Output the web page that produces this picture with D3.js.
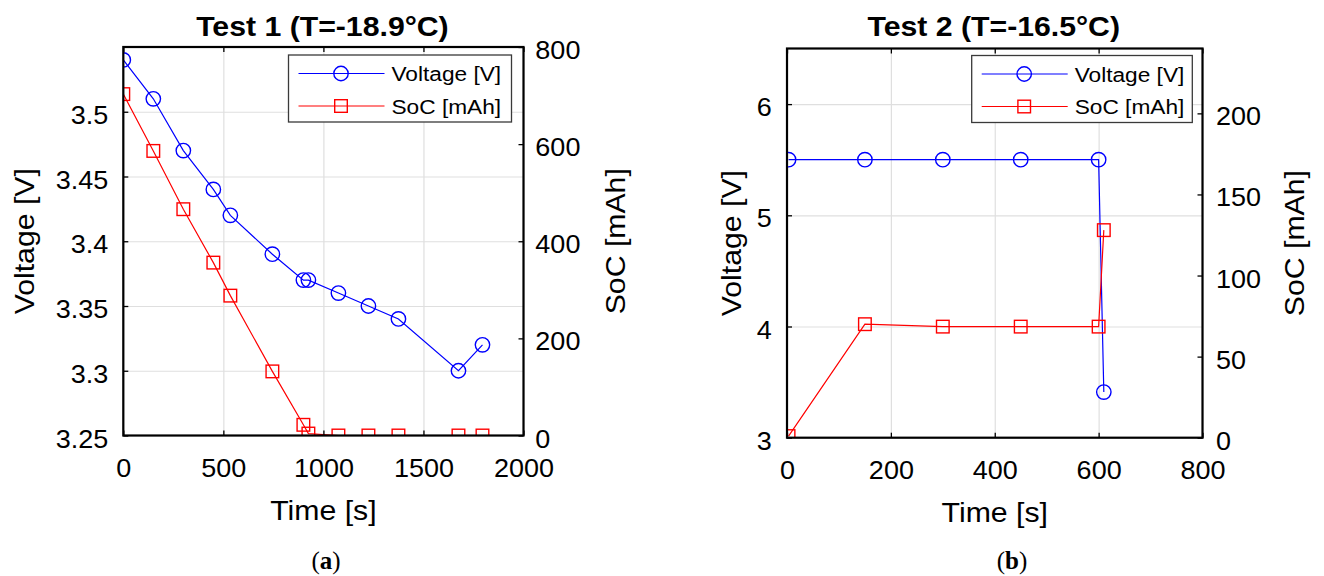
<!DOCTYPE html>
<html>
<head>
<meta charset="utf-8">
<script src="https://cdn.jsdelivr.net/npm/d3@7"></script>
<style>
body{margin:0;background:#fff;}
svg text{font-family:"Liberation Sans",Arial,sans-serif;fill:#000;}
</style>
</head>
<body>
<script>
// Test 1 (T=-18.9°C)
var timeA = [0, 150, 300, 450, 535, 745, 900, 925, 1075, 1225, 1375, 1675, 1795];
var voltA = [3.54, 3.51, 3.47, 3.44, 3.42, 3.39, 3.37, 3.37, 3.36, 3.35, 3.34, 3.30, 3.32];
var socA  = [703, 586, 466, 356, 288, 132, 22, 4, 0, 0, 0, 0, 0];

// Test 2 (T=-16.5°C)
var timeB = [3, 150, 300, 450, 600, 610];
var voltB = [5.5, 5.5, 5.5, 5.5, 5.5, 3.41];
var socB  = [1, 70, 68.5, 68.5, 68.5, 128];

// tick labels
var xTicksA = [0, 500, 1000, 1500, 2000];
var vTicksA = [3.25, 3.3, 3.35, 3.4, 3.45, 3.5];
var sTicksA = [0, 200, 400, 600, 800];
var xTicksB = [0, 200, 400, 600, 800];
var vTicksB = [3, 4, 5, 6];
var sTicksB = [0, 50, 100, 150, 200];

var seriesNames = ["Voltage [V]", "SoC [mAh]"];

var W = 1324, H = 576, SX = 1.08;
var BLUE = "#0000ff", RED = "#ff0000";

var svg = d3.select("body").append("svg")
  .attr("width", W).attr("height", H);

function stretchText(sel, size) {
  sel.style("font-family", '"Liberation Sans",Arial,sans-serif')
     .style("font-size", size + "px")
     .attr("fill", "#000")
     .attr("transform", "scale(" + SX + ",1)");
}

function label(x, y, str, size, rot, bold) {
  return svg.append("text")
    .attr("transform", "translate(" + x + "," + y + ") rotate(" + (rot || 0) + ") scale(" + SX + ",1)")
    .attr("text-anchor", "middle")
    .style("font-size", size + "px")
    .style("font-weight", bold ? "bold" : "normal")
    .text(str);
}

function drawPanel(p) {
  var x = d3.scaleLinear().domain(p.xDom).range([p.left, p.right]);
  var yL = d3.scaleLinear().domain(p.vDom).range([p.bottom, p.top]);
  var yR = d3.scaleLinear().domain(p.sDom).range([p.bottom, p.top]);
  var w = p.right - p.left, h = p.bottom - p.top;

  var g = svg.append("g");

  // grid lines
  g.append("g").attr("transform", "translate(0," + p.bottom + ")")
    .call(d3.axisBottom(x).tickValues(p.xTicks).tickSize(-h).tickFormat(""))
    .call(function(s) { s.select(".domain").remove(); })
    .selectAll("line").attr("stroke", "#dfdfdf").attr("stroke-width", 1.2);
  g.append("g").attr("transform", "translate(" + p.left + ",0)")
    .call(d3.axisLeft(yL).tickValues(p.vTicks).tickSize(-w).tickFormat(""))
    .call(function(s) { s.select(".domain").remove(); })
    .selectAll("line").attr("stroke", "#dfdfdf").attr("stroke-width", 1.2);

  // data
  g.append("clipPath").attr("id", p.id)
    .append("rect").attr("x", p.left).attr("y", p.top).attr("width", w).attr("height", h);
  var plot = g.append("g").attr("clip-path", "url(#" + p.id + ")");

  var data = p.time.map(function(t, i) { return { t: t, v: p.volt[i], s: p.soc[i] }; });

  plot.append("path").datum(data)
    .attr("d", d3.line().x(function(d) { return x(d.t); }).y(function(d) { return yL(d.v); }))
    .attr("fill", "none").attr("stroke", BLUE).attr("stroke-width", 1.2);
  plot.selectAll(".vm").data(data).enter().append("circle")
    .attr("cx", function(d) { return x(d.t); })
    .attr("cy", function(d) { return yL(d.v); })
    .attr("r", 7.2)
    .attr("fill", "none").attr("stroke", BLUE).attr("stroke-width", 1.4);

  plot.append("path").datum(data)
    .attr("d", d3.line().x(function(d) { return x(d.t); }).y(function(d) { return yR(d.s); }))
    .attr("fill", "none").attr("stroke", RED).attr("stroke-width", 1.2);
  plot.selectAll(".sm").data(data).enter().append("rect")
    .attr("x", function(d) { return x(d.t) - 6.3; })
    .attr("y", function(d) { return yR(d.s) - 6.3; })
    .attr("width", 12.6).attr("height", 12.6)
    .attr("fill", "none").attr("stroke", RED).attr("stroke-width", 1.4);

  // inward ticks on all four sides
  [
    [d3.axisBottom(x).tickValues(p.xTicks), "translate(0," + p.bottom + ")"],
    [d3.axisTop(x).tickValues(p.xTicks), "translate(0," + p.top + ")"],
    [d3.axisLeft(yL).tickValues(p.vTicks), "translate(" + p.left + ",0)"],
    [d3.axisRight(yR).tickValues(p.sTicks), "translate(" + p.right + ",0)"]
  ].forEach(function(a) {
    g.append("g").attr("transform", a[1])
      .call(a[0].tickSize(-5).tickFormat(""))
      .call(function(s) { s.select(".domain").remove(); })
      .selectAll("line").attr("stroke", "#000").attr("stroke-width", 1.3);
  });

  // tick labels
  g.append("g").attr("transform", "translate(0," + p.bottom + ")")
    .call(d3.axisBottom(x).tickValues(p.xTicks).tickSize(0).tickPadding(24).tickFormat(d3.format("~g")))
    .call(function(s) { s.select(".domain").remove(); })
    .selectAll("text").call(stretchText, 25);
  g.append("g").attr("transform", "translate(" + p.left + ",0)")
    .call(d3.axisLeft(yL).tickValues(p.vTicks).tickSize(0).tickPadding(14).tickFormat(d3.format("~g")))
    .call(function(s) { s.select(".domain").remove(); })
    .selectAll("text").call(stretchText, 25).attr("dy", "0.46em");
  g.append("g").attr("transform", "translate(" + p.right + ",0)")
    .call(d3.axisRight(yR).tickValues(p.sTicks).tickSize(0).tickPadding(p.rPad).tickFormat(d3.format("~g")))
    .call(function(s) { s.select(".domain").remove(); })
    .selectAll("text").call(stretchText, 25).attr("dy", "0.46em");

  // frame
  g.append("rect").attr("x", p.left).attr("y", p.top).attr("width", w).attr("height", h)
    .attr("fill", "none").attr("stroke", "#000").attr("stroke-width", 2.2);

  // legend
  var lg = g.append("g").attr("transform", "translate(" + p.legX + "," + p.legY + ")");
  lg.append("rect").attr("width", p.legW).attr("height", 67)
    .attr("fill", "#fff").attr("stroke", "#3a3a3a").attr("stroke-width", 1.3);
  seriesNames.forEach(function(name, i) {
    var ry = 18.5 + i * 32.5;
    var col = i === 0 ? BLUE : RED;
    lg.append("line").attr("x1", 10).attr("x2", 96).attr("y1", ry).attr("y2", ry)
      .attr("stroke", col).attr("stroke-width", 1.2);
    if (i === 0) {
      lg.append("circle").attr("cx", 52.5).attr("cy", ry).attr("r", 7.2)
        .attr("fill", "none").attr("stroke", col).attr("stroke-width", 1.4);
    } else {
      lg.append("rect").attr("x", 52.5 - 6.3).attr("y", ry - 6.3).attr("width", 12.6).attr("height", 12.6)
        .attr("fill", "none").attr("stroke", col).attr("stroke-width", 1.4);
    }
    lg.append("text").attr("transform", "translate(103," + (ry + 7.5) + ") scale(" + SX + ",1)")
      .style("font-size", "21px").text(name);
  });

  // titles and axis labels
  var cx = (p.left + p.right) / 2;
  label(cx - 1, 36, p.title, 28, 0, true);
  label(cx, p.xLabY, "Time [s]", 28);
  label(p.vLabX, (p.top + p.bottom) / 2, seriesNames[0], 28, -90);
  label(p.sLabX, (p.top + p.bottom) / 2, seriesNames[1], 28, -90);

  // caption
  var cap = svg.append("text").attr("x", p.capX).attr("y", 569)
    .attr("text-anchor", "middle")
    .style("font-family", '"Liberation Serif","Times New Roman",serif')
    .style("font-size", "25px");
  cap.append("tspan").text("(");
  cap.append("tspan").style("font-weight", "bold").text(p.cap);
  cap.append("tspan").text(")");
}

drawPanel({
  id: "clipA", title: "Test 1 (T=-18.9°C)", cap: "a", capX: 326,
  time: timeA, volt: voltA, soc: socA,
  xDom: [0, 2000], vDom: [3.25, 3.55], sDom: [0, 800],
  xTicks: xTicksA, vTicks: vTicksA, sTicks: sTicksA,
  left: 123.3, right: 523.5, top: 47, bottom: 435.5,
  rPad: 11, legX: 288.5, legY: 55, legW: 223,
  xLabY: 520, vLabX: 34, sLabX: 625
});

drawPanel({
  id: "clipB", title: "Test 2 (T=-16.5°C)", cap: "b", capX: 1012,
  time: timeB, volt: voltB, soc: socB,
  xDom: [0, 800], vDom: [3, 6.5], sDom: [0, 240],
  xTicks: xTicksB, vTicks: vTicksB, sTicks: sTicksB,
  left: 787, right: 1202.5, top: 48.5, bottom: 437.7,
  rPad: 12.5, legX: 971.7, legY: 55.5, legW: 220.6,
  xLabY: 522, vLabX: 740.5, sLabX: 1304
});
</script>
</body>
</html>
